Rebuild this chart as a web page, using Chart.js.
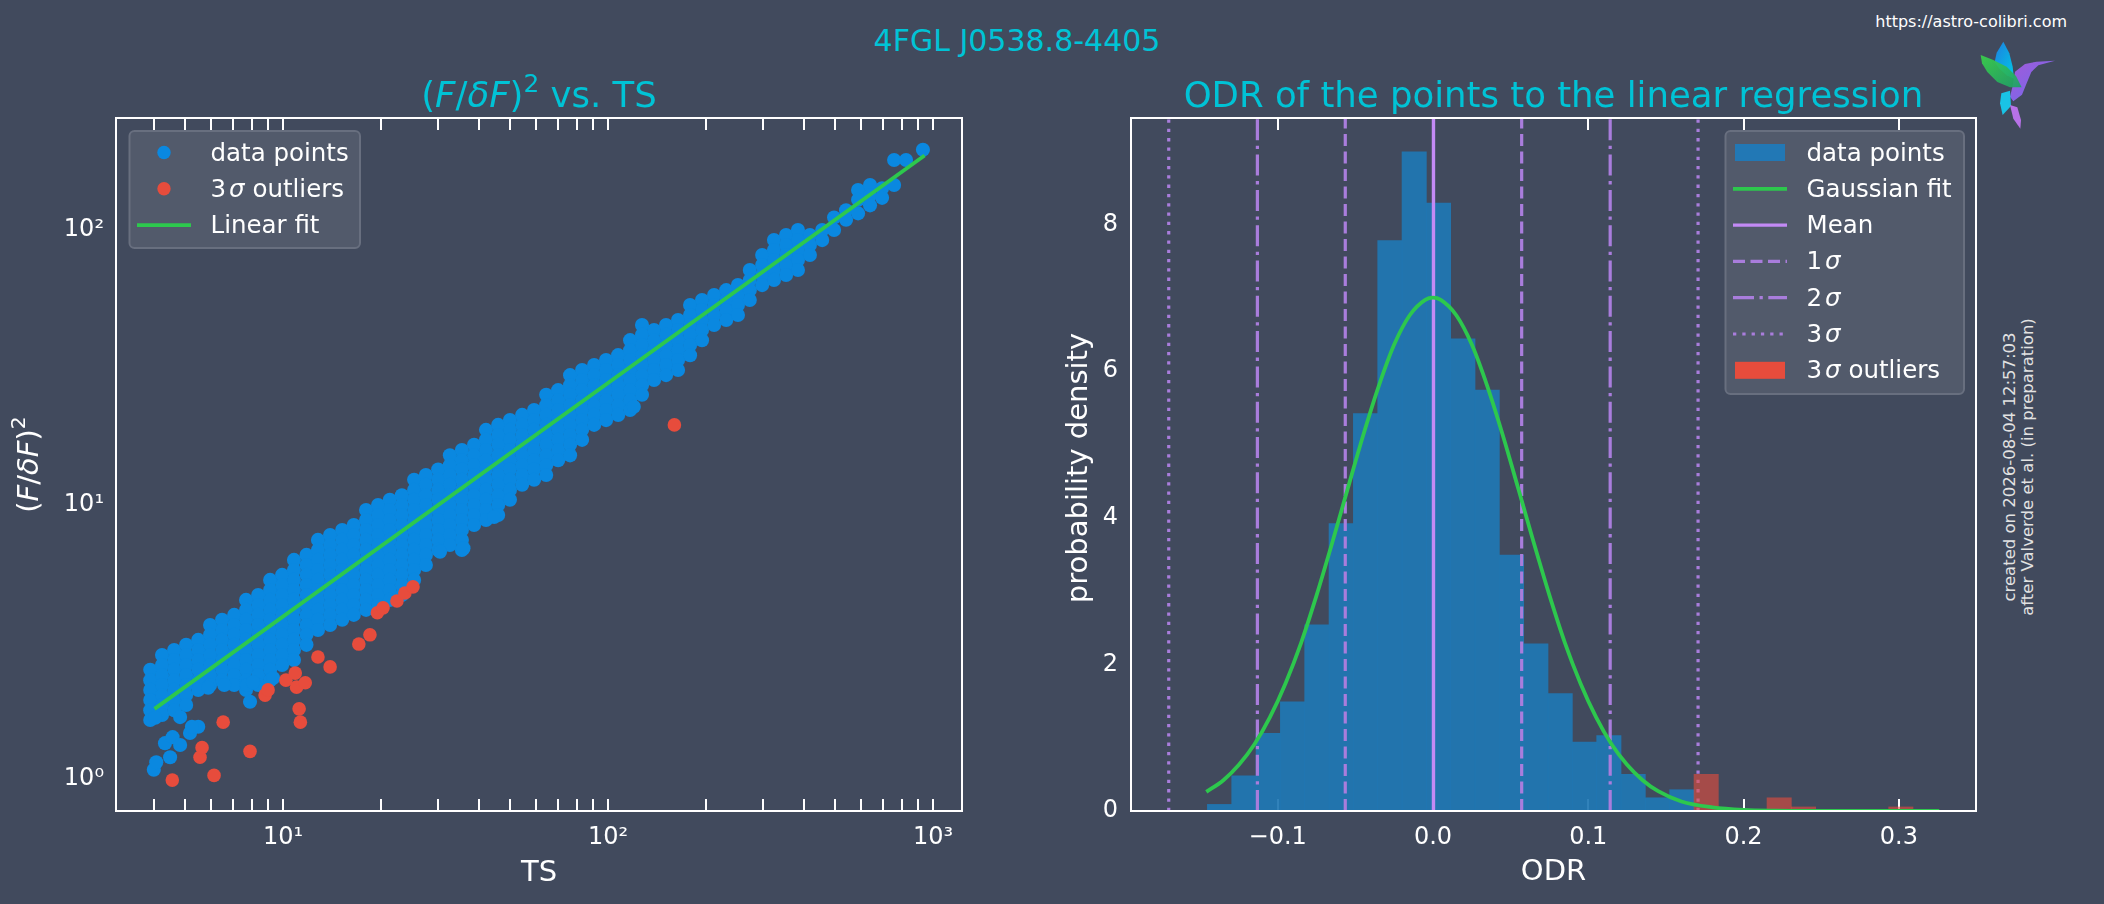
<!DOCTYPE html>
<html>
<head>
<meta charset="utf-8">
<title>4FGL J0538.8-4405</title>
<script src="https://cdn.jsdelivr.net/npm/chart.js@4.4.1/dist/chart.umd.min.js"></script>
<style>
  html, body { margin: 0; padding: 0; }
  body { width: 2104px; height: 904px; background: #414a5d; position: relative; overflow: hidden; font-family: 'DejaVu Sans', sans-serif; }
  canvas { position: absolute; top: 0; }
  #graficoScatter { left: 0; }
  #graficoOdr { left: 1052px; }
  #suptitulo { position: absolute; left: 1017px; top: 23px; transform: translateX(-50%); font-size: 30px; line-height: 36px; color: #00c3d6; white-space: nowrap; }
  #url { position: absolute; right: 37px; top: 12px; font-size: 16px; line-height: 20px; color: #ffffff; white-space: nowrap; }
  #sello { position: absolute; left: 2018px; top: 467px; transform: translate(-50%, -50%) rotate(-90deg); font-size: 16.5px; line-height: 17.5px; color: #e2e2e2; text-align: center; white-space: nowrap; }
  #logo { position: absolute; left: 1960px; top: 0; width: 144px; height: 140px; }
</style>
</head>
<body>
<div id="suptitulo">4FGL J0538.8-4405</div>
<div id="url">https://astro-colibri.com</div>
<div id="sello">created on 2026-08-04 12:57:03<br>after Valverde et al. (in preparation)</div>
<svg id="logo" viewBox="0 0 432 420">
  <defs>
    <linearGradient id="gAla" x1="0" y1="0" x2="1" y2="1"><stop offset="0" stop-color="#1e7fe0"/><stop offset="1" stop-color="#00c8e6"/></linearGradient>
    <linearGradient id="gHoja" x1="0" y1="0" x2="1" y2="1"><stop offset="0" stop-color="#3ad24a"/><stop offset="1" stop-color="#1e9f68"/></linearGradient>
    <linearGradient id="gCuerpo" x1="0" y1="0" x2="1" y2="1"><stop offset="0" stop-color="#a35ad8"/><stop offset="1" stop-color="#6c6cf0"/></linearGradient>
  </defs>
  <polygon points="130,125 148,160 158,200 162,236 140,226 118,206 104,186 110,158" fill="url(#gAla)"/>
  <polygon points="165,215 195,192 230,185 285,182 235,196 214,216 200,250 186,284 160,304 150,290 158,258" fill="url(#gCuerpo)"/>
  <polygon points="124,280 150,272 153,318 128,345 120,310" fill="#19c3e6"/>
  <polygon points="150,315 172,322 183,360 181,386 160,356" fill="#b872e8"/>
  <polygon points="62,165 100,180 140,200 168,228 185,262 150,262 112,246 82,216 66,190" fill="url(#gHoja)" opacity="0.92"/>
</svg>
<canvas id="graficoScatter" width="1052" height="904"></canvas>
<canvas id="graficoOdr" width="1052" height="904"></canvas>
<script>
// ---- panel izquierdo: (F/dF)^2 frente a TS (nube leida por columnas de TS) ----
const colTS = [3.90, 4.24, 4.62, 5.03, 5.48, 5.96, 6.49, 7.07, 7.69, 8.38,
  9.12, 9.93, 10.8, 11.8, 12.8, 13.95, 15.2, 16.5, 18.0, 19.6,
  21.3, 23.2, 25.3, 27.5, 30.0, 32.6, 35.5, 38.7, 42.1, 45.9,
  49.9, 54.4, 59.2, 64.5, 70.2, 76.4, 83.2, 90.6, 98.6, 107.4,
  116.9, 127.2, 138.5, 150.8, 164.2, 178.8, 194.6, 212, 231, 251,
  273, 298, 324, 353, 384, 418, 456, 496, 540, 588,
  640, 697, 759, 826, 931];
const colSig = [
  [2.50, 2.29, 2.11, 1.94, 1.78, 1.64],
  [2.83, 2.60, 2.39, 2.20, 2.02, 1.86, 1.71],
  [2.95, 2.71, 2.50, 2.29, 2.11, 1.94, 1.78],
  [3.08, 2.83, 2.60, 2.39, 2.20, 2.02, 1.86],
  [3.21, 2.95, 2.71, 2.50, 2.29, 2.11],
  [3.64, 3.35, 3.08, 2.83, 2.60, 2.39, 2.20],
  [3.80, 3.49, 3.21, 2.95, 2.71, 2.50, 2.29],
  [3.96, 3.64, 3.35, 3.08, 2.83, 2.60, 2.39, 2.20],
  [4.49, 4.13, 3.80, 3.49, 3.21, 2.95, 2.71, 2.50, 2.29, 2.11],
  [4.68, 4.30, 3.96, 3.64, 3.35, 3.08, 2.83, 2.60, 2.39, 2.20],
  [5.31, 4.88, 4.49, 4.13, 3.80, 3.49, 3.21, 2.95, 2.71, 2.50, 2.29],
  [5.54, 5.09, 4.68, 4.30, 3.96, 3.64, 3.35, 3.08, 2.83, 2.60],
  [6.28, 5.77, 5.31, 4.88, 4.49, 4.13, 3.80, 3.49, 3.21, 2.95, 2.71],
  [6.55, 6.02, 5.54, 5.09, 4.68, 4.30, 3.96, 3.64, 3.35, 3.08],
  [7.43, 6.83, 6.28, 5.77, 5.31, 4.88, 4.49, 4.13, 3.80, 3.49],
  [7.74, 7.12, 6.55, 6.02, 5.54, 5.09, 4.68, 4.30, 3.96, 3.64],
  [8.07, 7.43, 6.83, 6.28, 5.77, 5.31, 4.88, 4.49, 4.13, 3.80],
  [8.42, 7.74, 7.12, 6.55, 6.02, 5.54, 5.09, 4.68, 4.30, 3.96],
  [9.55, 8.78, 8.07, 7.43, 6.83, 6.28, 5.77, 5.31, 4.88, 4.49, 4.13],
  [9.96, 9.16, 8.42, 7.74, 7.12, 6.55, 6.02, 5.54, 5.09, 4.68, 4.30],
  [10.4, 9.55, 8.78, 8.07, 7.43, 6.83, 6.28, 5.77, 5.31, 4.88, 4.49],
  [10.8, 9.96, 9.16, 8.42, 7.74, 7.12, 6.55, 6.02, 5.54, 5.09, 4.68],
  [12.3, 11.3, 10.4, 9.55, 8.78, 8.07, 7.43, 6.83, 6.28, 5.77, 5.31],
  [12.8, 11.8, 10.8, 9.96, 9.16, 8.42, 7.74, 7.12, 6.55, 6.02],
  [13.4, 12.3, 11.3, 10.4, 9.55, 8.78, 8.07, 7.43, 6.83],
  [15.1, 13.9, 12.8, 11.8, 10.8, 9.96, 9.16, 8.42, 7.74, 7.12],
  [15.8, 14.5, 13.4, 12.3, 11.3, 10.4, 9.55, 8.78, 8.07, 7.43, 6.83],
  [16.5, 15.1, 13.9, 12.8, 11.8, 10.8, 9.96, 9.16, 8.42],
  [18.7, 17.2, 15.8, 14.5, 13.4, 12.3, 11.3, 10.4, 9.55, 8.78],
  [19.5, 17.9, 16.5, 15.1, 13.9, 12.8, 11.8, 10.8, 9.96, 9.16],
  [20.3, 18.7, 17.2, 15.8, 14.5, 13.4, 12.3, 11.3, 10.4],
  [21.2, 19.5, 17.9, 16.5, 15.1, 13.9, 12.8, 11.8],
  [22.1, 20.3, 18.7, 17.2, 15.8, 14.5, 13.4, 12.3],
  [25.1, 23.0, 21.2, 19.5, 17.9, 16.5, 15.1, 13.9, 12.8],
  [26.1, 24.0, 22.1, 20.3, 18.7, 17.2, 15.8, 14.5],
  [29.6, 27.2, 25.1, 23.0, 21.2, 19.5, 17.9, 16.5, 15.1],
  [30.9, 28.4, 26.1, 24.0, 22.1, 20.3, 18.7, 17.2],
  [32.2, 29.6, 27.2, 25.1, 23.0, 21.2, 19.5],
  [33.6, 30.9, 28.4, 26.1, 24.0, 22.1, 20.3],
  [35.0, 32.2, 29.6, 27.2, 25.1, 23.0, 21.2],
  [39.7, 36.5, 33.6, 30.9, 28.4, 26.1, 24.0, 22.1],
  [45.1, 41.5, 38.1, 35.0, 32.2, 29.6, 27.2, 25.1],
  [43.2, 39.7, 36.5, 33.6, 30.9, 28.4],
  [45.1, 41.5, 38.1, 35.0, 32.2, 29.6],
  [47.0, 43.2, 39.7, 36.5, 33.6, 30.9],
  [53.3, 49.0, 45.1, 41.5, 38.1, 35.0],
  [55.6, 51.1, 47.0, 43.2, 39.7],
  [58.0, 53.3, 49.0, 45.1],
  [60.4, 55.6, 51.1, 47.0],
  [63.0, 58.0, 53.3, 49.0],
  [71.5, 65.8, 60.4, 55.6],
  [81.1, 74.6, 68.6, 63.0],
  [91.9, 84.6, 77.8, 71.5, 65.8],
  [95.9, 88.2, 81.1, 74.6, 68.6],
  [100, 91.9, 84.6, 77.8, 71.5],
  [95.9, 88.2, 81.1],
  [100, 91.9],
  [111, 100],
  [118, 109],
  [140, 129, 115],
  [146, 134, 123],
  [142, 131],
  [146, 180],
  [180],
  [196]
];
// puntos sueltos por debajo de la nube
const extraTS  = [4.00, 4.07, 4.49, 4.33, 4.57, 4.82, 5.17, 5.48, 5.24, 4.04, 4.82, 7.91, 7.73, 8.08, 9.32, 6.59, 5.88, 44.6, 120, 35.9, 30.4];
const extraSig = [1.08, 1.15, 1.20, 1.35, 1.42, 1.33, 1.47, 1.55, 1.55, 1.67, 1.68, 1.91, 2.20, 2.25, 2.33, 2.20, 2.15, 9.00, 22.7, 6.92, 6.73];
// outliers a 3 sigma
const outTS  = [4.56, 6.13, 5.55, 5.63, 6.54, 7.91, 8.80, 8.99, 10.2, 10.9, 11.0, 11.7, 11.2, 11.3, 12.8, 13.95, 17.1, 18.5, 19.5, 20.3, 22.4, 23.7, 25.1, 160];
const outSig = [0.99, 1.03, 1.20, 1.30, 1.61, 1.26, 2.02, 2.11, 2.29, 2.43, 2.16, 2.24, 1.80, 1.61, 2.78, 2.56, 3.10, 3.35, 4.03, 4.20, 4.45, 4.76, 5.01, 19.5];
// ajuste lineal (extremos de la recta)
const fitTS  = [4.02, 942];
const fitSig = [1.80, 187];
// marcas y etiquetas de ejes
const tsTicks = [4, 5, 6, 7, 8, 9, 10, 20, 30, 40, 50, 60, 70, 80, 90, 100, 200, 300, 400, 500, 600, 700, 800, 900, 1000];
const tsLabelValues = [10, 100, 1000];
const tsLabels = ['10¹', '10²', '10³'];
const sigTicks = [1, 10, 100];
const sigLabels = ['10⁰', '10¹', '10²'];

// ---- panel derecho: histograma de ODR ----
const binCenters = [-0.13747, -0.1218, -0.10613, -0.09046, -0.07479, -0.05912, -0.04345, -0.02778, -0.01211, 0.00356,
  0.01923, 0.0349, 0.05057, 0.06624, 0.08191, 0.09758, 0.11325, 0.12892, 0.14459, 0.16026];
const binDensity = [0.09, 0.48, 1.06, 1.49, 2.54, 3.92, 5.42, 7.78, 8.99, 8.29,
  6.44, 5.74, 3.49, 2.28, 1.60, 0.94, 1.03, 0.50, 0.18, 0.29];
const outBinCenters = [0.17593, 0.22294, 0.23861, 0.30129];
const outBinDensity = [0.50, 0.18, 0.055, 0.055];
const gaussX = [-0.146, -0.135, -0.125, -0.115, -0.105, -0.095, -0.085, -0.075, -0.065, -0.055, -0.045, -0.035, -0.025, -0.015, -0.005, 0,
  0.005, 0.015, 0.025, 0.035, 0.045, 0.055, 0.065, 0.075, 0.085, 0.095, 0.105, 0.115, 0.125, 0.135, 0.145, 0.16, 0.18, 0.20, 0.22, 0.25, 0.28, 0.326];
const gaussY = [0.26, 0.42, 0.63, 0.91, 1.28, 1.74, 2.29, 2.94, 3.65, 4.39, 5.12, 5.79, 6.36, 6.76, 6.97, 7.00,
  6.97, 6.76, 6.36, 5.79, 5.12, 4.39, 3.65, 2.94, 2.29, 1.74, 1.28, 0.91, 0.63, 0.42, 0.27, 0.13, 0.05, 0.015, 0.004, 0.0005, 0, 0];
const meanOdr = 0.0003;
const sigmaLow = [-0.0565, -0.1131, -0.1702];
const sigmaHigh = [0.0571, 0.1141, 0.1707];
const odrTicks = [-0.1, 0, 0.1, 0.2, 0.3];
const densTicks = [0, 2, 4, 6, 8];
const odrMin = -0.1945, odrMax = 0.3497, densMax = 9.45;

// ---- estilos ----
const FUENTE = "'DejaVu Sans'";
const CIAN = '#00c3d6';
const AZUL = '#0a88e0';
const ROJO = '#e74c3c';
const VERDE = '#2dc84d';
const MEDIA = '#c38af5';
const SIGMA = '#a97ddc';

Chart.defaults.font.family = FUENTE;
Chart.defaults.color = '#ffffff';

function fuente(seg, tam) {
  return (seg.it ? 'italic ' : '') + (seg.sup ? tam * 0.7 : tam) + 'px ' + FUENTE;
}

function textoRico(ctx, segs, x, y, tam, alinear) {
  ctx.save();
  ctx.textAlign = 'left';
  ctx.textBaseline = 'alphabetic';
  let ancho = 0;
  const med = segs.map(s => {
    ctx.font = fuente(s, tam);
    const w = ctx.measureText(s.t).width + (s.gap || 0);
    ancho += w;
    return w;
  });
  let cx = alinear === 'center' ? x - ancho / 2 : x;
  segs.forEach((s, i) => {
    ctx.font = fuente(s, tam);
    ctx.fillText(s.t, cx + (s.gap || 0), s.sup ? y - tam * 0.42 : y);
    cx += med[i];
  });
  ctx.restore();
}

function etiquetaRica(texto) {
  const segs = [];
  texto.split('σ').forEach((p, i) => {
    if (i > 0) segs.push({ t: 'σ', it: true, gap: 3 });
    if (p) segs.push({ t: p });
  });
  return segs;
}

const segFlujo = () => [{ t: '(' }, { t: 'F', it: true }, { t: '/' }, { t: 'δF', it: true }, { t: ')' }, { t: '2', sup: true }];

function marcasX(chart, valores) {
  const { ctx, chartArea: a, scales: { x } } = chart;
  ctx.save();
  ctx.strokeStyle = '#ffffff';
  ctx.lineWidth = 2;
  ctx.beginPath();
  valores.forEach(v => {
    const px = Math.round(x.getPixelForValue(v));
    ctx.moveTo(px, a.bottom); ctx.lineTo(px, a.bottom - 12);
    ctx.moveTo(px, a.top); ctx.lineTo(px, a.top + 12);
  });
  ctx.stroke();
  ctx.restore();
}

function marco(chart) {
  const { ctx, chartArea: a } = chart;
  ctx.save();
  ctx.strokeStyle = '#ffffff';
  ctx.lineWidth = 2;
  ctx.strokeRect(a.left, a.top, a.right - a.left, a.bottom - a.top);
  ctx.restore();
}

function leyenda(chart, caja, filas) {
  const { ctx } = chart;
  ctx.save();
  ctx.beginPath();
  ctx.roundRect(caja.x, caja.y, caja.w, caja.h, 5);
  ctx.fillStyle = '#525a6b';
  ctx.fill();
  ctx.lineWidth = 2;
  ctx.strokeStyle = '#686f7f';
  ctx.stroke();
  filas.forEach((f, i) => {
    const ds = chart.data.datasets[f.ds];
    const cy = caja.y + 21.5 + i * 36.3;
    if (f.tipo === 'punto') {
      ctx.beginPath();
      ctx.arc(caja.x + 34.5, cy, 6.7, 0, Math.PI * 2);
      ctx.fillStyle = ds.backgroundColor;
      ctx.fill();
    } else if (f.tipo === 'parche') {
      ctx.fillStyle = f.color;
      ctx.fillRect(caja.x + 9.5, cy - 8.5, 50, 17);
    } else {
      ctx.beginPath();
      ctx.setLineDash(ds.borderDash || []);
      ctx.lineCap = 'butt';
      ctx.strokeStyle = ds.borderColor;
      ctx.lineWidth = ds.borderWidth;
      ctx.moveTo(caja.x + 7.5, cy);
      ctx.lineTo(caja.x + 61.5, cy);
      ctx.stroke();
      ctx.setLineDash([]);
    }
    ctx.fillStyle = '#ffffff';
    textoRico(ctx, etiquetaRica(ds.label), caja.x + 81, cy + 8, 24.5, 'left');
  });
  ctx.restore();
}

// ---- grafico izquierdo ----
const puntos = [];
colTS.forEach((ts, i) => colSig[i].forEach(s => puntos.push({ x: ts, y: s })));
extraTS.forEach((ts, i) => puntos.push({ x: ts, y: extraSig[i] }));
const atipicos = outTS.map((ts, i) => ({ x: ts, y: outSig[i] }));
const recta = fitTS.map((ts, i) => ({ x: ts, y: fitSig[i] }));

const decoIzq = {
  id: 'decoIzq',
  beforeDatasetsDraw(chart) { marcasX(chart, tsTicks); },
  afterDatasetsDraw(chart) {
    marco(chart);
    leyenda(chart, { x: 129.5, y: 131, w: 230.5, h: 117 }, [
      { ds: 0, tipo: 'punto' }, { ds: 1, tipo: 'punto' }, { ds: 2, tipo: 'linea' }
    ]);
  },
  afterDraw(chart) {
    const { ctx, chartArea: a } = chart;
    const cx = (a.left + a.right) / 2;
    ctx.fillStyle = CIAN;
    textoRico(ctx, segFlujo().concat([{ t: ' vs. TS' }]), cx, 106.5, 35.5, 'center');
    ctx.fillStyle = '#ffffff';
    textoRico(ctx, [{ t: 'TS' }], cx, 881, 29, 'center');
    ctx.save();
    ctx.translate(37.5, (a.top + a.bottom) / 2);
    ctx.rotate(-Math.PI / 2);
    textoRico(ctx, segFlujo(), 0, 0, 29, 'center');
    ctx.restore();
  }
};

new Chart(document.getElementById('graficoScatter'), {
  type: 'scatter',
  data: {
    datasets: [
      { label: 'data points', data: puntos, backgroundColor: AZUL, borderColor: AZUL, borderWidth: 0,
        pointBorderWidth: 0, pointRadius: 7.05, order: 3 },
      { label: '3σ outliers', data: atipicos, backgroundColor: ROJO, borderColor: ROJO, borderWidth: 0,
        pointBorderWidth: 0, pointRadius: 6.8, order: 2 },
      { label: 'Linear fit', type: 'line', data: recta, borderColor: VERDE, borderWidth: 3.8, pointRadius: 0, showLine: true, order: 1 }
    ]
  },
  options: {
    responsive: false,
    animation: false,
    devicePixelRatio: 1,
    events: [],
    layout: { padding: { left: 0, right: 90, top: 118, bottom: 0 } },
    plugins: { legend: { display: false }, tooltip: { enabled: false } },
    scales: {
      x: {
        type: 'logarithmic', min: 3.06, max: 1228,
        grid: { display: false, drawTicks: false }, border: { display: false },
        afterBuildTicks: s => { s.ticks = tsTicks.map(v => ({ value: v })); },
        afterFit: s => { s.height = 93; },
        ticks: {
          padding: 12, autoSkip: false, maxRotation: 0, color: '#ffffff', font: { size: 24 },
          callback: v => { const k = tsLabelValues.indexOf(v); return k < 0 ? '' : tsLabels[k]; }
        }
      },
      y: {
        type: 'logarithmic', min: 0.764, max: 256,
        grid: { display: false, drawTicks: false }, border: { display: false },
        afterBuildTicks: s => { s.ticks = sigTicks.map(v => ({ value: v })); },
        afterFit: s => { s.width = 116; },
        ticks: {
          padding: 12, autoSkip: false, color: '#ffffff', font: { size: 24 },
          callback: v => { const k = sigTicks.indexOf(v); return k < 0 ? '' : sigLabels[k]; }
        }
      }
    }
  },
  plugins: [decoIzq]
});

// ---- grafico derecho ----
const barras = binCenters.map((c, i) => ({ x: c, y: binDensity[i] }));
const barrasOut = outBinCenters.map((c, i) => ({ x: c, y: outBinDensity[i] }));
const gauss = gaussX.map((x, i) => ({ x, y: gaussY[i] }));
const vertical = v => [{ x: v, y: 0 }, { x: v, y: densMax }];
const estilosSigma = [[12, 5.5], [21, 5.5, 3.3, 5.5], [3.3, 6]];

const lineasSigma = [];
sigmaLow.forEach((v, k) => {
  [v, sigmaHigh[k]].forEach(pos => lineasSigma.push({
    type: 'line', label: (k + 1) + 'σ', data: vertical(pos), borderColor: SIGMA, borderWidth: 3.2,
    borderDash: estilosSigma[k], borderCapStyle: 'butt', pointRadius: 0, order: 4
  }));
});

const decoDer = {
  id: 'decoDer',
  beforeDatasetsDraw(chart) { marcasX(chart, odrTicks); },
  afterDatasetsDraw(chart) {
    marco(chart);
    leyenda(chart, { x: 673.5, y: 131, w: 238.5, h: 263 }, [
      { ds: 0, tipo: 'parche', color: '#2278b5' }, { ds: 1, tipo: 'linea' }, { ds: 2, tipo: 'linea' },
      { ds: 3, tipo: 'linea' }, { ds: 5, tipo: 'linea' }, { ds: 7, tipo: 'linea' },
      { ds: 9, tipo: 'parche', color: ROJO }
    ]);
  },
  afterDraw(chart) {
    const { ctx, chartArea: a } = chart;
    const cx = (a.left + a.right) / 2;
    ctx.fillStyle = CIAN;
    textoRico(ctx, [{ t: 'ODR of the points to the linear regression' }], cx, 106.5, 35.5, 'center');
    ctx.fillStyle = '#ffffff';
    textoRico(ctx, [{ t: 'ODR' }], cx, 880, 29, 'center');
    ctx.save();
    ctx.translate(34.5, 468);
    ctx.rotate(-Math.PI / 2);
    textoRico(ctx, [{ t: 'probability density' }], 0, 0, 29, 'center');
    ctx.restore();
  }
};

new Chart(document.getElementById('graficoOdr'), {
  type: 'bar',
  data: {
    datasets: [
      { type: 'bar', label: 'data points', data: barras, backgroundColor: 'rgba(31,119,180,0.92)', borderWidth: 0,
        barPercentage: 1, categoryPercentage: 1, grouped: false, order: 6 },
      { type: 'line', label: 'Gaussian fit', data: gauss, borderColor: VERDE, borderWidth: 3.8, pointRadius: 0,
        cubicInterpolationMode: 'monotone', order: 1 },
      { type: 'line', label: 'Mean', data: vertical(meanOdr), borderColor: MEDIA, borderWidth: 3.4, pointRadius: 0, order: 5 },
      ...lineasSigma,
      { type: 'bar', label: '3σ outliers', data: barrasOut, backgroundColor: 'rgba(231,76,60,0.6)', borderWidth: 0,
        barPercentage: 1, categoryPercentage: 1, grouped: false, order: 2 }
    ]
  },
  options: {
    responsive: false,
    animation: false,
    devicePixelRatio: 1,
    events: [],
    layout: { padding: { left: 0, right: 128, top: 118, bottom: 0 } },
    plugins: { legend: { display: false }, tooltip: { enabled: false } },
    scales: {
      x: {
        type: 'linear', offset: false, min: odrMin, max: odrMax,
        grid: { display: false, drawTicks: false }, border: { display: false },
        afterBuildTicks: s => { s.ticks = odrTicks.map(v => ({ value: v })); },
        afterFit: s => { s.height = 93; },
        ticks: {
          padding: 12, autoSkip: false, maxRotation: 0, color: '#ffffff', font: { size: 24 },
          callback: v => (v < 0 ? '−' : '') + Math.abs(v).toFixed(1)
        }
      },
      y: {
        min: 0, max: densMax,
        grid: { display: false, drawTicks: false }, border: { display: false },
        afterBuildTicks: s => { s.ticks = densTicks.map(v => ({ value: v })); },
        afterFit: s => { s.width = 79; },
        ticks: { padding: 13, autoSkip: false, color: '#ffffff', font: { size: 24 }, callback: v => String(v) }
      }
    }
  },
  plugins: [decoDer]
});
</script>
</body>
</html>
